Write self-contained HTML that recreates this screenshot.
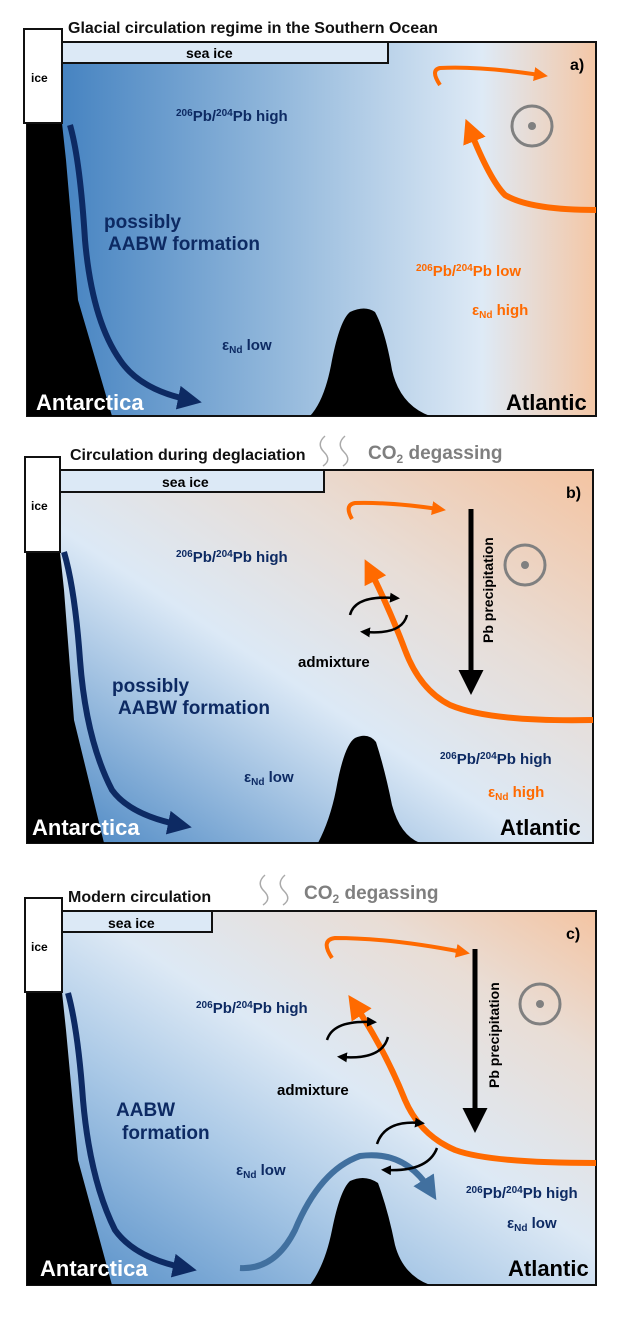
<!DOCTYPE html>
<html><head><meta charset="utf-8"><style>
body{margin:0;background:#fff}
svg{display:block}
text{font-family:"Liberation Sans",Arial,sans-serif;font-weight:bold}
</style></head><body>
<svg width="617" height="1323" viewBox="0 0 617 1323" xmlns="http://www.w3.org/2000/svg">
<defs>
<linearGradient id="ga" x1="0" y1="0" x2="1" y2="0">
<stop offset="0" stop-color="#3a7bbd"/><stop offset="0.45" stop-color="#94b9dc"/><stop offset="0.8" stop-color="#deeaf6"/><stop offset="1" stop-color="#f4c7a6"/></linearGradient>
<linearGradient id="gb" x1="0" y1="1" x2="1" y2="0">
<stop offset="0" stop-color="#3f7fbf"/><stop offset="0.45" stop-color="#dce9f6"/><stop offset="0.7" stop-color="#e8ddd6"/><stop offset="1" stop-color="#f4c4a2"/></linearGradient>
<linearGradient id="gc" x1="0" y1="1" x2="1" y2="0">
<stop offset="0" stop-color="#4c88c4"/><stop offset="0.35" stop-color="#a9c8e6"/><stop offset="0.55" stop-color="#dde9f5"/><stop offset="0.8" stop-color="#e9ddd5"/><stop offset="1" stop-color="#f4c4a2"/></linearGradient>
<marker id="mo" markerWidth="4" markerHeight="4" refX="2" refY="2" orient="auto" markerUnits="strokeWidth"><path d="M0,0 L4,2 L0,4 z" fill="#ff6a00"/></marker>
<marker id="mo2" markerWidth="3.5" markerHeight="3.5" refX="1.5" refY="1.75" orient="auto" markerUnits="strokeWidth"><path d="M0,0 L3.5,1.75 L0,3.5 z" fill="#ff6a00"/></marker>
<marker id="mb" markerWidth="4" markerHeight="4" refX="2" refY="2" orient="auto" markerUnits="strokeWidth"><path d="M0,0 L4,2 L0,4 z" fill="#0d2a63"/></marker>
<marker id="ml" markerWidth="4" markerHeight="4" refX="2" refY="2" orient="auto" markerUnits="strokeWidth"><path d="M0,0 L4,2 L0,4 z" fill="#41709f"/></marker>
<marker id="mk" markerWidth="4" markerHeight="4" refX="2" refY="2" orient="auto" markerUnits="strokeWidth"><path d="M0,0 L4,2 L0,4 z" fill="#000"/></marker>
<marker id="ms" markerWidth="5" markerHeight="5" refX="2" refY="2.5" orient="auto" markerUnits="strokeWidth"><path d="M0,0 L5,2.5 L0,5 z" fill="#000"/></marker>
</defs>

<!-- Panel a -->
<rect x="27" y="42" width="569" height="374" fill="url(#ga)" stroke="#111" stroke-width="2"/>
<path d="M27,123 L62,123 L66,160 L78,300 L112,416 L27,416Z" fill="#000"/>
<path d="M310,416 Q325,400 332,360 Q340,320 350,312 Q365,305 375,312 Q385,330 392,370 Q400,405 430,416Z" fill="#000"/>
<rect x="24" y="29" width="38" height="94" fill="#fff" stroke="#111" stroke-width="2"/>
<text x="31" y="82" font-size="12">ice</text>
<rect x="62" y="42" width="326" height="21" fill="#dce9f6" stroke="#111" stroke-width="2"/>
<text x="186" y="58" font-size="14">sea ice</text>
<text x="68" y="33" font-size="16" fill="#111">Glacial circulation regime in the Southern Ocean</text>
<text x="570" y="70" font-size="16">a)</text>
<path d="M70,125 Q80,160 85,240 Q92,320 120,360 Q140,390 190,400" fill="none" stroke="#0d2a63" stroke-width="6" marker-end="url(#mb)"/>
<path d="M440,85 Q430,70 440,68 Q480,66 540,75" fill="none" stroke="#ff6a00" stroke-width="4" marker-end="url(#mo2)"/>
<path d="M596,210 Q530,210 505,195 Q490,180 470,130" fill="none" stroke="#ff6a00" stroke-width="6" marker-end="url(#mo)"/>
<circle cx="532" cy="126" r="20" fill="none" stroke="#808080" stroke-width="3"/><circle cx="532" cy="126" r="4" fill="#808080"/>
<text x="176" y="121" font-size="15" fill="#0d2a63"><tspan font-size="10" dy="-5">206</tspan><tspan dy="5">Pb/</tspan><tspan font-size="10" dy="-5">204</tspan><tspan dy="5">Pb high</tspan></text>
<text x="104" y="228" font-size="19" fill="#0d2a63">possibly</text>
<text x="108" y="250" font-size="19" fill="#0d2a63">AABW formation</text>
<text x="222" y="350" font-size="15" fill="#0d2a63">ε<tspan font-size="10" dy="3">Nd</tspan><tspan dy="-3"> low</tspan></text>
<text x="416" y="276" font-size="15" fill="#ff6a00"><tspan font-size="10" dy="-5">206</tspan><tspan dy="5">Pb/</tspan><tspan font-size="10" dy="-5">204</tspan><tspan dy="5">Pb low</tspan></text>
<text x="472" y="315" font-size="15" fill="#ff6a00">ε<tspan font-size="10" dy="3">Nd</tspan><tspan dy="-3"> high</tspan></text>
<text x="36" y="410" font-size="22" fill="#fff">Antarctica</text>
<text x="506" y="410" font-size="22" fill="#000">Atlantic</text>

<!-- Panel b -->
<rect x="27" y="470" width="566" height="373" fill="url(#gb)" stroke="#111" stroke-width="2"/>
<path d="M27,552 L60,552 L64,590 L74,720 L104,843 L27,843Z" fill="#000"/>
<path d="M318,843 Q330,820 336,790 Q344,745 355,738 Q368,732 376,742 Q385,770 392,805 Q400,835 420,843Z" fill="#000"/>
<rect x="25" y="457" width="35" height="95" fill="#fff" stroke="#111" stroke-width="2"/>
<text x="31" y="510" font-size="12">ice</text>
<rect x="60" y="470" width="264" height="22" fill="#dce9f6" stroke="#111" stroke-width="2"/>
<text x="162" y="487" font-size="14">sea ice</text>
<text x="70" y="460" font-size="16" fill="#111">Circulation during deglaciation</text>
<path d="M325,436 Q316,444 324,452 Q332,460 323,466 M345,436 Q336,444 344,452 Q352,460 343,466" fill="none" stroke="#aaa" stroke-width="1.5"/>
<text x="368" y="459" font-size="19" fill="#7f7f7f">CO<tspan font-size="12" dy="4">2</tspan><tspan dy="-4"> degassing</tspan></text>
<text x="566" y="498" font-size="16">b)</text>
<path d="M64,552 Q75,590 80,660 Q86,740 112,790 Q130,815 180,825" fill="none" stroke="#0d2a63" stroke-width="6" marker-end="url(#mb)"/>
<path d="M352,519 Q344,505 355,503 Q390,502 438,509" fill="none" stroke="#ff6a00" stroke-width="4" marker-end="url(#mo2)"/>
<path d="M593,720 Q490,722 450,705 Q420,690 405,650 Q390,610 370,570" fill="none" stroke="#ff6a00" stroke-width="6" marker-end="url(#mo)"/>
<line x1="471" y1="509" x2="471" y2="680" stroke="#000" stroke-width="5" marker-end="url(#ms)"/>
<text transform="translate(493,643) rotate(-90)" font-size="14">Pb precipitation</text>
<circle cx="525" cy="565" r="20" fill="none" stroke="#808080" stroke-width="3"/><circle cx="525" cy="565" r="4" fill="#808080"/>
<path d="M350,615 Q355,595 395,598" fill="none" stroke="#000" stroke-width="2.5" marker-end="url(#mk)"/>
<path d="M407,615 Q402,635 365,632" fill="none" stroke="#000" stroke-width="2.5" marker-end="url(#mk)"/>
<text x="298" y="667" font-size="15">admixture</text>
<text x="176" y="562" font-size="15" fill="#0d2a63"><tspan font-size="10" dy="-5">206</tspan><tspan dy="5">Pb/</tspan><tspan font-size="10" dy="-5">204</tspan><tspan dy="5">Pb high</tspan></text>
<text x="112" y="692" font-size="19" fill="#0d2a63">possibly</text>
<text x="118" y="714" font-size="19" fill="#0d2a63">AABW formation</text>
<text x="244" y="782" font-size="15" fill="#0d2a63">ε<tspan font-size="10" dy="3">Nd</tspan><tspan dy="-3"> low</tspan></text>
<text x="440" y="764" font-size="15" fill="#0d2a63"><tspan font-size="10" dy="-5">206</tspan><tspan dy="5">Pb/</tspan><tspan font-size="10" dy="-5">204</tspan><tspan dy="5">Pb high</tspan></text>
<text x="488" y="797" font-size="15" fill="#ff6a00">ε<tspan font-size="10" dy="3">Nd</tspan><tspan dy="-3"> high</tspan></text>
<text x="32" y="835" font-size="22" fill="#fff">Antarctica</text>
<text x="500" y="835" font-size="22" fill="#000">Atlantic</text>

<!-- Panel c -->
<rect x="27" y="911" width="569" height="374" fill="url(#gc)" stroke="#111" stroke-width="2"/>
<path d="M27,992 L62,992 L66,1030 L78,1160 L112,1285 L27,1285Z" fill="#000"/>
<path d="M310,1285 Q325,1265 332,1230 Q340,1190 350,1181 Q365,1174 378,1183 Q388,1210 395,1245 Q403,1275 430,1285Z" fill="#000"/>
<rect x="25" y="898" width="37" height="94" fill="#fff" stroke="#111" stroke-width="2"/>
<text x="31" y="951" font-size="12">ice</text>
<rect x="62" y="911" width="150" height="21" fill="#dce9f6" stroke="#111" stroke-width="2"/>
<text x="108" y="928" font-size="14">sea ice</text>
<text x="68" y="902" font-size="16" fill="#111">Modern circulation</text>
<path d="M265,875 Q256,883 264,891 Q272,899 263,905 M285,875 Q276,883 284,891 Q292,899 283,905" fill="none" stroke="#aaa" stroke-width="1.5"/>
<text x="304" y="899" font-size="19" fill="#7f7f7f">CO<tspan font-size="12" dy="4">2</tspan><tspan dy="-4"> degassing</tspan></text>
<text x="566" y="939" font-size="16">c)</text>
<path d="M68,993 Q78,1030 83,1100 Q90,1180 115,1230 Q135,1258 185,1268" fill="none" stroke="#0d2a63" stroke-width="6" marker-end="url(#mb)"/>
<path d="M240,1268 Q275,1270 295,1230 Q320,1170 360,1156 Q405,1150 430,1190" fill="none" stroke="#41709f" stroke-width="6" marker-end="url(#ml)"/>
<path d="M332,958 Q320,940 335,938 Q390,938 462,952" fill="none" stroke="#ff6a00" stroke-width="4" marker-end="url(#mo2)"/>
<path d="M596,1163 Q490,1163 455,1150 Q420,1135 405,1100 Q385,1050 355,1005" fill="none" stroke="#ff6a00" stroke-width="6" marker-end="url(#mo)"/>
<line x1="475" y1="949" x2="475" y2="1118" stroke="#000" stroke-width="5" marker-end="url(#ms)"/>
<text transform="translate(499,1088) rotate(-90)" font-size="14">Pb precipitation</text>
<circle cx="540" cy="1004" r="20" fill="none" stroke="#808080" stroke-width="3"/><circle cx="540" cy="1004" r="4" fill="#808080"/>
<path d="M327,1040 Q333,1020 372,1022" fill="none" stroke="#000" stroke-width="2.5" marker-end="url(#mk)"/>
<path d="M388,1037 Q382,1060 342,1057" fill="none" stroke="#000" stroke-width="2.5" marker-end="url(#mk)"/>
<path d="M377,1144 Q385,1120 420,1123" fill="none" stroke="#000" stroke-width="2.5" marker-end="url(#mk)"/>
<path d="M437,1148 Q428,1172 386,1170" fill="none" stroke="#000" stroke-width="2.5" marker-end="url(#mk)"/>
<text x="277" y="1095" font-size="15">admixture</text>
<text x="196" y="1013" font-size="15" fill="#0d2a63"><tspan font-size="10" dy="-5">206</tspan><tspan dy="5">Pb/</tspan><tspan font-size="10" dy="-5">204</tspan><tspan dy="5">Pb high</tspan></text>
<text x="116" y="1116" font-size="19" fill="#0d2a63">AABW</text>
<text x="122" y="1139" font-size="19" fill="#0d2a63">formation</text>
<text x="236" y="1175" font-size="15" fill="#0d2a63">ε<tspan font-size="10" dy="3">Nd</tspan><tspan dy="-3"> low</tspan></text>
<text x="466" y="1198" font-size="15" fill="#0d2a63"><tspan font-size="10" dy="-5">206</tspan><tspan dy="5">Pb/</tspan><tspan font-size="10" dy="-5">204</tspan><tspan dy="5">Pb high</tspan></text>
<text x="507" y="1228" font-size="15" fill="#0d2a63">ε<tspan font-size="10" dy="3">Nd</tspan><tspan dy="-3"> low</tspan></text>
<text x="40" y="1276" font-size="22" fill="#fff">Antarctica</text>
<text x="508" y="1276" font-size="22" fill="#000">Atlantic</text>
</svg>
</body></html>
